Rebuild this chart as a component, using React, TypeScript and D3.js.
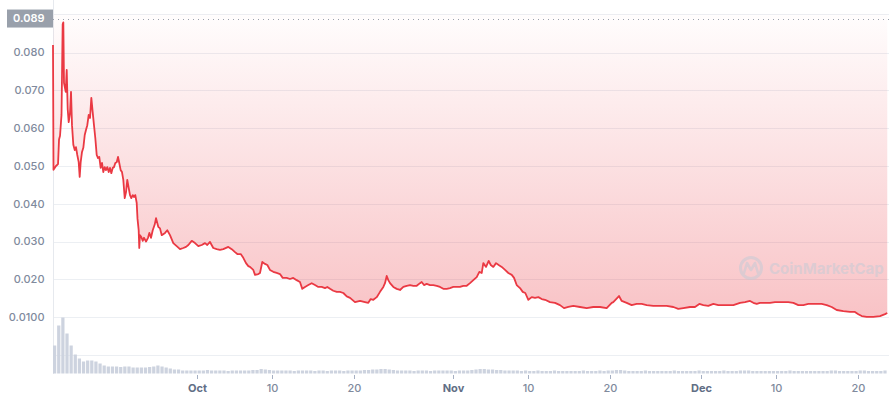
import * as d3 from 'd3'
import { useEffect, useRef } from 'react'

const DAY = 864e5
const startTime = Date.UTC(2023, 8, 13, 13, 0)
const endTime = Date.UTC(2023, 11, 23, 11, 30)

// price, USD; day offset from startTime
const priceDays = [
    0, 0.06, 0.36, 0.61, 0.73, 0.85, 1.03, 1.17, 1.25, 1.33, 1.54, 1.66, 1.78, 1.9, 2.06, 2.18, 2.3, 2.46, 2.63, 2.78,
    2.94, 3.11, 3.23, 3.35, 3.51, 3.67, 3.84, 3.99, 4.15, 4.32, 4.48, 4.64, 4.8, 4.96, 5.12, 5.29, 5.45, 5.6, 5.77, 5.93,
    6.09, 6.26, 6.41, 6.57, 6.74, 6.9, 7.06, 7.23, 7.38, 7.54, 7.71, 7.87, 8.02, 8.19, 8.35, 8.51, 8.68, 8.84, 8.99, 9.16,
    9.32, 9.48, 9.65, 9.8, 9.96, 10.13, 10.23, 10.37, 10.44, 10.53, 10.69, 10.86, 11.01, 11.26, 11.5, 11.66, 11.86, 12.07, 12.31, 12.47,
    12.74, 12.95, 13.16, 13.56, 13.83, 14.16, 14.56, 14.97, 15.37, 15.77, 16.1, 16.38, 16.79, 17.19, 17.59, 18.0, 18.4, 18.67, 19.0, 19.4,
    19.81, 20.21, 20.61, 21.22, 21.63, 22.03, 22.31, 22.72, 23.03, 23.36, 23.64, 23.84, 24.24, 24.45, 24.85, 25.05, 25.33, 25.66, 25.94, 26.26,
    26.66, 27.07, 27.47, 27.8, 28.28, 28.68, 29.08, 29.49, 29.89, 30.17, 30.5, 30.9, 31.31, 31.71, 32.11, 32.52, 32.92, 33.2, 33.53, 33.92,
    34.34, 34.73, 35.14, 35.55, 35.95, 36.55, 37.16, 37.76, 38.16, 38.45, 38.77, 39.18, 39.58, 39.98, 40.18, 40.39, 40.58, 40.79, 41.19, 41.6,
    42.0, 42.4, 42.81, 43.21, 43.61, 44.02, 44.42, 44.62, 44.9, 45.23, 45.63, 46.03, 46.44, 46.84, 47.24, 47.65, 48.05, 48.45, 48.86, 49.26,
    49.66, 50.07, 50.47, 50.87, 51.28, 51.6, 51.89, 52.08, 52.41, 52.73, 52.98, 53.29, 53.62, 53.94, 54.31, 54.71, 55.11, 55.52, 55.8, 56.12,
    56.52, 56.85, 57.16, 57.53, 57.94, 58.34, 58.74, 59.15, 59.55, 60.15, 60.76, 61.36, 61.85, 62.37, 62.97, 63.78, 64.59, 65.39, 66.2, 67.01,
    67.62, 67.81, 68.5, 68.83, 69.43, 70.04, 70.64, 71.25, 71.86, 72.65, 73.46, 74.27, 75.08, 75.68, 76.29, 77.1, 77.7, 78.22, 78.71, 79.31,
    79.92, 80.52, 81.13, 81.73, 82.34, 83.15, 83.75, 84.36, 84.76, 85.17, 85.57, 86.17, 86.78, 87.38, 88.19, 88.99, 89.6, 90.21, 90.81, 91.42,
    92.22, 93.03, 93.64, 94.24, 94.85, 95.65, 96.46, 97.06, 97.47, 97.88, 98.48, 99.28, 100.09, 100.7, 100.97,
]
const priceValues = [
    0.082, 0.049, 0.05, 0.0505, 0.057, 0.058, 0.0635, 0.0875, 0.088, 0.072, 0.0696, 0.0754, 0.065, 0.0616, 0.064, 0.0696, 0.0608, 0.0556, 0.0542, 0.055,
    0.0529, 0.051, 0.0471, 0.051, 0.0537, 0.0548, 0.0582, 0.0595, 0.0608, 0.0635, 0.0627, 0.068, 0.0643, 0.0608, 0.0574, 0.0529, 0.0521, 0.0524, 0.0495, 0.0508,
    0.0484, 0.0497, 0.0489, 0.0497, 0.0484, 0.0495, 0.0481, 0.0495, 0.0497, 0.0508, 0.051, 0.0524, 0.0508, 0.0489, 0.0484, 0.0463, 0.0415, 0.0431, 0.0463, 0.0442,
    0.0423, 0.0415, 0.0423, 0.0418, 0.0423, 0.0402, 0.036, 0.033, 0.0283, 0.0317, 0.0312, 0.0302, 0.031, 0.03, 0.031, 0.0323, 0.031, 0.033, 0.0345, 0.0362,
    0.0339, 0.0335, 0.0317, 0.0323, 0.033, 0.0317, 0.0296, 0.0288, 0.028, 0.0283, 0.0286, 0.0291, 0.0302, 0.0296, 0.0288, 0.0291, 0.0296, 0.0291, 0.0299, 0.0283,
    0.028, 0.0278, 0.028, 0.0286, 0.028, 0.0272, 0.0267, 0.0267, 0.0257, 0.0243, 0.0235, 0.0233, 0.0225, 0.0212, 0.0214, 0.0217, 0.0246, 0.0241, 0.0238, 0.0225,
    0.022, 0.0217, 0.0214, 0.0204, 0.0204, 0.0201, 0.0204, 0.0198, 0.0193, 0.0175, 0.018, 0.0185, 0.019, 0.0185, 0.018, 0.018, 0.0177, 0.018, 0.0175, 0.017,
    0.0167, 0.0167, 0.0164, 0.0155, 0.0151, 0.014, 0.0143, 0.014, 0.0138, 0.0148, 0.0146, 0.0153, 0.0167, 0.018, 0.019, 0.0209, 0.0198, 0.019, 0.018, 0.0175,
    0.0172, 0.018, 0.0183, 0.0185, 0.0183, 0.0183, 0.019, 0.0193, 0.0185, 0.0188, 0.0185, 0.0185, 0.0183, 0.018, 0.0175, 0.0175, 0.0177, 0.018, 0.018, 0.018,
    0.0183, 0.0183, 0.019, 0.0198, 0.0206, 0.022, 0.0217, 0.0243, 0.0233, 0.0249, 0.0238, 0.0233, 0.0243, 0.0238, 0.0233, 0.0225, 0.0217, 0.0212, 0.0204, 0.0185,
    0.0177, 0.0167, 0.0164, 0.0146, 0.0153, 0.0151, 0.0153, 0.0148, 0.0146, 0.014, 0.0138, 0.0132, 0.0124, 0.0127, 0.013, 0.0127, 0.0124, 0.0127, 0.0127, 0.0124,
    0.0138, 0.014, 0.0156, 0.0143, 0.0138, 0.0132, 0.0135, 0.0135, 0.0132, 0.013, 0.013, 0.013, 0.0127, 0.0122, 0.0124, 0.0127, 0.0127, 0.0135, 0.0132, 0.013,
    0.0135, 0.0132, 0.0132, 0.0132, 0.0132, 0.0138, 0.014, 0.0143, 0.0138, 0.0135, 0.0138, 0.0138, 0.0138, 0.014, 0.014, 0.014, 0.0138, 0.0132, 0.0132, 0.0135,
    0.0135, 0.0135, 0.0132, 0.0127, 0.0119, 0.0116, 0.0114, 0.0114, 0.0108, 0.0103, 0.0101, 0.0101, 0.0103, 0.0108, 0.0111,
]

// 24h volume, millions USD, one bar per half day from startTime
const volumeStepDays = 0.5
const volumeValues = [
    2.8, 4.8, 5.6, 4.0, 2.8, 1.9, 1.5, 1.2, 1.3, 1.3, 1.2, 1.0, 0.8, 0.7, 0.7, 0.7, 0.65, 0.7, 0.7, 0.6,
    0.6, 0.6, 0.6, 0.65, 0.7, 0.8, 0.7, 0.6, 0.5, 0.4, 0.4, 0.3, 0.3, 0.3, 0.3,
    0.3, 0.3, 0.35, 0.3, 0.3, 0.3, 0.3, 0.25, 0.3, 0.3,
    0.3, 0.3, 0.3, 0.35, 0.35, 0.45, 0.4, 0.35, 0.3, 0.3,
    0.3, 0.3, 0.3, 0.25, 0.3, 0.3, 0.3, 0.3, 0.25, 0.3,
    0.3, 0.25, 0.3, 0.3, 0.3, 0.25, 0.3, 0.3, 0.3, 0.3,
    0.35, 0.35, 0.4, 0.4, 0.45, 0.45, 0.4, 0.35, 0.3, 0.3,
    0.3, 0.3, 0.25, 0.3, 0.3, 0.3, 0.25, 0.3, 0.3, 0.3,
    0.3, 0.3, 0.25, 0.3, 0.3, 0.3, 0.35, 0.4, 0.45, 0.45,
    0.4, 0.4, 0.35, 0.35, 0.3, 0.3, 0.3, 0.3, 0.25, 0.3,
    0.25, 0.25, 0.3, 0.25, 0.25, 0.25, 0.3, 0.25, 0.25, 0.25,
    0.25, 0.25, 0.25, 0.3, 0.25, 0.25, 0.25, 0.3, 0.25, 0.3,
    0.3, 0.35, 0.35, 0.3, 0.25, 0.25, 0.25, 0.25, 0.3, 0.25,
    0.25, 0.25, 0.25, 0.25, 0.25, 0.3, 0.25, 0.25, 0.25, 0.25,
    0.25, 0.3, 0.25, 0.25, 0.25, 0.25, 0.25, 0.3, 0.25, 0.25,
    0.25, 0.3, 0.3, 0.3, 0.25, 0.25, 0.25, 0.25, 0.25, 0.25,
    0.25, 0.25, 0.25, 0.3, 0.25, 0.25, 0.25, 0.25, 0.25, 0.25,
    0.25, 0.25, 0.25, 0.3, 0.3, 0.25, 0.25, 0.25, 0.25, 0.25,
    0.3, 0.3, 0.25, 0.25, 0.25, 0.25, 0.3,
]

const yTicks = [0.01, 0.02, 0.03, 0.04, 0.05, 0.06, 0.07, 0.08]
const yTickLabels = ['0.0100', '0.020', '0.030', '0.040', '0.050', '0.060', '0.070', '0.080']
const maxPrice = 0.089
const maxPriceLabel = '0.089'

const xTickDates = ['2023-10-01', '2023-10-10', '2023-10-20', '2023-11-01', '2023-11-10', '2023-11-20', '2023-12-01', '2023-12-10', '2023-12-20']
const xTickLabels = ['Oct', '10', '20', 'Nov', '10', '20', 'Dec', '10', '20']

export default function App() {
    const svgRef = useRef<SVGSVGElement>(null)

    useEffect(() => {
        makeChart(svgRef)
    }, [])

    function makeChart(svgRef: React.RefObject<SVGSVGElement>) {
        const width = 889
        const height = 400
        const left = 53
        const right = 887
        const font = 'Inter, "Noto Sans", sans-serif'

        const svg = d3.select(svgRef.current).attr('width', width).attr('height', height)
        svg.selectAll('*').remove()

        const x = d3.scaleUtc().domain([new Date(startTime), new Date(endTime)]).range([left, right])
        const y = d3.scaleLinear().domain([0, 0.0902]).range([355, 14])
        const yVol = d3.scaleLinear().domain([0, 6]).range([373.5, 313.5])

        const prices = priceDays.map((d, i) => ({ t: new Date(startTime + d * DAY), v: priceValues[i] }))

        const defs = svg.append('defs')
        const grad = defs.append('linearGradient')
            .attr('id', 'fillGrad')
            .attr('gradientUnits', 'userSpaceOnUse')
            .attr('x1', 0).attr('x2', 0)
            .attr('y1', y.range()[1]).attr('y2', 374)
        grad.append('stop').attr('offset', 0).attr('stop-color', '#ea3943').attr('stop-opacity', 0.01)
        grad.append('stop').attr('offset', 1).attr('stop-color', '#ea3943').attr('stop-opacity', 0.36)

        // grid
        const grid = svg.append('g')
        grid.selectAll('line')
            .data([0, ...yTicks, y.domain()[1]])
            .enter()
            .append('line')
            .attr('x1', left).attr('x2', width)
            .attr('y1', d => Math.round(y(d)) + 0.5).attr('y2', d => Math.round(y(d)) + 0.5)
            .attr('stroke', '#eceff3')
        svg.append('line')
            .attr('x1', left + 0.5).attr('x2', left + 0.5)
            .attr('y1', 0).attr('y2', 374)
            .attr('stroke', '#e6e9ee')

        // volume
        svg.append('g').selectAll('rect')
            .data(volumeValues)
            .enter()
            .append('rect')
            .attr('x', (d, i) => x(new Date(startTime + i * volumeStepDays * DAY)))
            .attr('width', (d, i) => x(new Date(startTime + (i + 1) * volumeStepDays * DAY)) - x(new Date(startTime + i * volumeStepDays * DAY)) - 0.9)
            .attr('y', d => yVol(d))
            .attr('height', d => yVol(0) - yVol(d))
            .attr('fill', '#cdd3df')

        // fill above the line
        const area = d3.area<{ t: Date, v: number }>()
            .x(d => x(d.t))
            .y0(y(y.domain()[1]))
            .y1(d => y(d.v))
        svg.append('path')
            .attr('d', area(prices))
            .attr('fill', 'url(#fillGrad)')

        // watermark
        const wm = svg.append('g').attr('opacity', 0.55)
        wm.append('circle')
            .attr('cx', 751).attr('cy', 268).attr('r', 10.5)
            .attr('fill', 'none').attr('stroke', '#c6cbd6').attr('stroke-width', 3)
        wm.append('path')
            .attr('d', 'M744,273 L747,263 L751,270 L755,263 L758,273')
            .attr('fill', 'none').attr('stroke', '#c6cbd6').attr('stroke-width', 2.6)
            .attr('stroke-linejoin', 'round').attr('stroke-linecap', 'round')
        wm.append('text')
            .attr('x', 769).attr('y', 274)
            .attr('font-family', font).attr('font-size', 15).attr('font-weight', 700)
            .attr('fill', '#c6cbd6')
            .text('CoinMarketCap')

        // price line
        const line = d3.line<{ t: Date, v: number }>()
            .x(d => x(d.t))
            .y(d => y(d.v))
        svg.append('path')
            .attr('d', line(prices))
            .attr('fill', 'none')
            .attr('stroke', '#ea3943')
            .attr('stroke-width', 1.8)
            .attr('stroke-linejoin', 'round')

        // max price marker
        svg.append('line')
            .attr('x1', left).attr('x2', width)
            .attr('y1', Math.round(y(maxPrice)) + 0.5).attr('y2', Math.round(y(maxPrice)) + 0.5)
            .attr('stroke', '#9aa1ad').attr('stroke-dasharray', '1,4')
        svg.append('rect')
            .attr('x', 7).attr('y', y(maxPrice) - 9)
            .attr('width', left - 7).attr('height', 18)
            .attr('fill', '#99a0ab')
        svg.append('text')
            .attr('x', 44.5).attr('y', y(maxPrice))
            .attr('dy', '0.35em')
            .attr('text-anchor', 'end')
            .attr('font-family', font).attr('font-size', 11).attr('font-weight', 600)
            .attr('fill', '#ffffff')
            .text(maxPriceLabel)

        // y labels
        svg.append('g').selectAll('text')
            .data(yTicks)
            .enter()
            .append('text')
            .attr('x', 44.5).attr('y', d => y(d))
            .attr('dy', '0.35em')
            .attr('text-anchor', 'end')
            .attr('font-family', font).attr('font-size', 11).attr('font-weight', 500)
            .attr('fill', '#808a9d')
            .text((d, i) => yTickLabels[i])

        // x axis
        const xg = svg.append('g')
        xTickDates.forEach((s, i) => {
            const px = Math.round(x(new Date(s + 'T00:00:00Z'))) + 0.5
            const isMonth = isNaN(Number(xTickLabels[i]))
            xg.append('line')
                .attr('x1', px).attr('x2', px)
                .attr('y1', 375).attr('y2', 379)
                .attr('stroke', '#a6b0c3')
            xg.append('text')
                .attr('x', px).attr('y', 392)
                .attr('text-anchor', 'middle')
                .attr('font-family', font).attr('font-size', 11)
                .attr('font-weight', isMonth ? 700 : 500)
                .attr('fill', isMonth ? '#616e85' : '#808a9d')
                .text(xTickLabels[i])
        })
    }

    return (
        <svg ref={svgRef} style={{ position: 'absolute', left: 0, top: 0 }}></svg>
    )
}
